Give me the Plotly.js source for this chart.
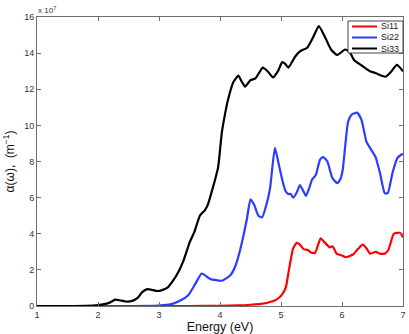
<!DOCTYPE html>
<html>
<head>
<meta charset="utf-8">
<script src="https://cdn.plot.ly/plotly-3.0.1.min.js"></script>
<style>
  html, body { margin: 0; padding: 0; background: #fff; }
  #plot { width: 409px; height: 334px; }
</style>
</head>
<body>
<div id="plot"></div>
<script>
// ---------- Data (alpha in units of 1e7 m^-1) ----------
const seriesNames = ['Si11', 'Si22', 'Si33'];

const eSi11 = [1, 3.5, 4.0, 4.3, 4.5, 4.7, 4.82, 4.93, 5.01, 5.08, 5.13, 5.2, 5.26, 5.31, 5.37, 5.44, 5.5, 5.56,
  5.65, 5.72, 5.8, 5.85, 5.91, 6.0, 6.06, 6.18, 6.26, 6.34, 6.4, 6.46, 6.55, 6.62, 6.7, 6.76, 6.85, 6.95, 7.0];
const aSi11 = [0, 0, 0.01, 0.03, 0.07, 0.13, 0.22, 0.37, 0.6, 1.05, 2.0, 3.2, 3.5, 3.4, 3.15, 3.1, 2.95, 2.95,
  3.75, 3.5, 3.25, 3.3, 2.9, 2.8, 2.7, 2.85, 3.15, 3.4, 3.2, 2.9, 3.0, 2.9, 2.9, 3.1, 4.0, 4.05, 3.8];

const eSi22 = [1, 2.5, 3.0, 3.2, 3.35, 3.48, 3.6, 3.7, 3.84, 4.03, 4.17, 4.25, 4.33, 4.44, 4.5, 4.56, 4.63, 4.69,
  4.76, 4.82, 4.9, 4.96, 5.02, 5.07, 5.12, 5.16, 5.2, 5.26, 5.31, 5.36, 5.41, 5.46, 5.51, 5.57, 5.64, 5.69, 5.76,
  5.84, 5.92, 5.97, 6.01, 6.1, 6.16, 6.25, 6.32, 6.4, 6.46, 6.55, 6.62, 6.7, 6.75, 6.83, 6.91, 6.98, 7.0];
const aSi22 = [0, 0, 0.02, 0.1, 0.3, 0.6, 1.25, 1.8, 1.5, 1.4, 1.7, 2.2, 3.1, 4.8, 5.9, 5.6, 5.0, 4.9,
  5.6, 6.5, 8.75, 7.9, 7.0, 6.4, 6.2, 6.2, 6.0, 6.3, 6.7, 6.4, 6.1, 6.5, 7.0, 7.25, 8.1, 8.25, 8.0,
  7.1, 6.8, 7.0, 7.5, 10.2, 10.6, 10.7, 10.3, 9.1, 8.75, 8.25, 7.4, 6.25, 6.25, 7.4, 8.2, 8.4, 8.4];

const eSi33 = [1, 1.5, 1.8, 2.0, 2.1, 2.2, 2.28, 2.35, 2.45, 2.55, 2.65, 2.72, 2.81, 2.9, 2.97, 3.05, 3.15, 3.23,
  3.32, 3.4, 3.5, 3.58, 3.67, 3.75, 3.8, 3.87, 3.92, 3.97, 4.03, 4.07, 4.13, 4.22, 4.3, 4.36, 4.41, 4.5, 4.58,
  4.64, 4.7, 4.78, 4.87, 4.95, 5.02, 5.07, 5.12, 5.18, 5.23, 5.31, 5.43, 5.53, 5.62, 5.72, 5.82, 5.92, 6.05,
  6.12, 6.2, 6.33, 6.46, 6.55, 6.65, 6.72, 6.8, 6.9, 7.0];
const aSi33 = [0, 0, 0.01, 0.05, 0.1, 0.2, 0.35, 0.32, 0.25, 0.27, 0.45, 0.75, 0.93, 0.88, 0.83, 0.88, 1.05, 1.4,
  1.9, 2.5, 3.5, 4.1, 5.0, 5.3, 5.6, 6.4, 7.0, 7.7, 9.6, 10.4, 11.4, 12.4, 12.75, 12.4, 12.15, 12.5, 12.6,
  12.9, 13.2, 13.0, 12.65, 13.0, 13.5, 13.4, 13.2, 13.5, 13.8, 14.1, 14.3, 14.9, 15.5, 14.9, 14.2, 13.9, 14.2,
  14.1, 13.6, 13.3, 13.0, 12.9, 12.75, 12.7, 12.95, 13.35, 13.0];

const xTicks = [1, 2, 3, 4, 5, 6, 7];
const yTicks = [0, 2, 4, 6, 8, 10, 12, 14, 16];

// ---------- Plot ----------
const W = 409, H = 334;
const margin = { l: 37, r: 6, t: 17, b: 28 };
const plotW = W - margin.l - margin.r, plotH = H - margin.t - margin.b;
const px = v => (v - margin.l) / plotW;          // pixel -> paper x
const py = v => (H - margin.b - v) / plotH;      // pixel -> paper y

const colors = ['#ff0000', '#2a3dff', '#000000'];
const xs = [eSi11, eSi22, eSi33];
const ys = [aSi11, aSi22, aSi33];
const font = 'Liberation Sans, Arial, sans-serif';

const traces = seriesNames.map((name, i) => ({
  x: xs[i], y: ys[i], name: name, mode: 'lines',
  line: { color: colors[i], width: 2.2, shape: 'spline', smoothing: 0.5 }
}));

// compact MATLAB-like legend box (top right)
const shapes = [{
  type: 'rect', xref: 'paper', yref: 'paper',
  x0: px(348), x1: px(403), y0: py(53), y1: py(21),
  fillcolor: '#fff', line: { color: '#444', width: 1 }, layer: 'above'
}];
const annotations = [{
  xref: 'paper', yref: 'paper', x: 0, y: 1, xanchor: 'left', yanchor: 'bottom',
  text: 'x 10<sup>7</sup>', showarrow: false, xshift: -1,
  font: { family: font, size: 8, color: '#333' }
}];
seriesNames.forEach((name, i) => {
  const rowY = 26.5 + i * 11;
  shapes.push({
    type: 'line', xref: 'paper', yref: 'paper',
    x0: px(352), x1: px(377), y0: py(rowY), y1: py(rowY),
    line: { color: colors[i], width: 2 }, layer: 'above'
  });
  annotations.push({
    xref: 'paper', yref: 'paper', x: px(379), y: py(rowY), xanchor: 'left', yanchor: 'middle',
    text: name, showarrow: false, font: { family: font, size: 9, color: '#222' }
  });
});

const axisCommon = {
  showgrid: false, zeroline: false, showline: true, mirror: 'ticks',
  linecolor: '#6e6e6e', linewidth: 1, ticks: 'inside', ticklen: 4, tickcolor: '#6e6e6e',
  tickfont: { family: font, size: 9, color: '#333' }
};

const layout = {
  width: W, height: H, margin: margin,
  paper_bgcolor: '#fff', plot_bgcolor: '#fff',
  showlegend: false,
  xaxis: Object.assign({}, axisCommon, {
    range: [1, 7], tickvals: xTicks,
    title: { text: 'Energy (eV)', standoff: 4, font: { family: font, size: 12.5, color: '#111' } }
  }),
  yaxis: Object.assign({}, axisCommon, {
    range: [0, 16], tickvals: yTicks,
    title: { text: 'α(ω),  (m<sup>−1</sup>)', standoff: 6, font: { family: font, size: 12, color: '#111' } }
  }),
  shapes: shapes,
  annotations: annotations
};

Plotly.newPlot('plot', traces, layout, { displayModeBar: false, staticPlot: true });
</script>
</body>
</html>
